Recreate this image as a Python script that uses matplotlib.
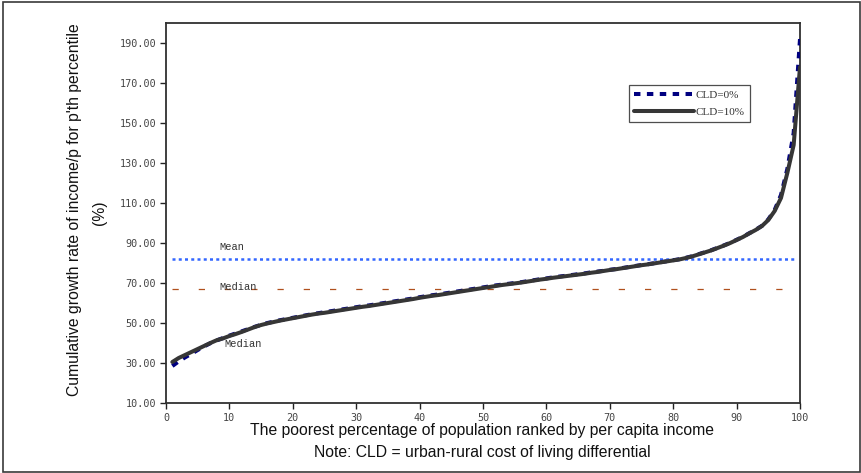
import matplotlib
matplotlib.use("Agg")
import matplotlib.pyplot as plt
from matplotlib.patches import Rectangle

# Percentile of population (poorest p%)
percentiles = list(range(1, 101))

# Cumulative growth rate of income per capita at each percentile (%), CLD = 0%
growth_cld0 = [
    28.5, 30.8, 32.8, 34.6, 36.5, 38.3, 39.9, 41.3, 42.5, 43.7,
    44.8, 45.9, 47.0, 48.1, 49.1, 50.0, 50.7, 51.4, 52.0, 52.6,
    53.2, 53.8, 54.4, 54.9, 55.4, 55.9, 56.4, 56.9, 57.4, 57.9,
    58.4, 58.8, 59.3, 59.8, 60.3, 60.8, 61.3, 61.8, 62.3, 62.9,
    63.4, 63.9, 64.3, 64.8, 65.3, 65.8, 66.3, 66.8, 67.3, 67.8,
    68.3, 68.8, 69.2, 69.6, 70.0, 70.4, 70.9, 71.4, 71.9, 72.3,
    72.8, 73.2, 73.6, 74.0, 74.4, 74.8, 75.3, 75.7, 76.1, 76.6,
    77.0, 77.5, 78.0, 78.5, 79.0, 79.4, 79.9, 80.4, 80.9, 81.4,
    81.9, 82.6, 83.4, 84.4, 85.4, 86.4, 87.6, 88.8, 90.1, 91.6,
    93.1, 94.9, 96.6, 98.6, 101.8, 106.5, 114.0, 127.0, 145.0, 192.0,
]

# Same measure with CLD = 10%
growth_cld10 = [
    30.5, 32.5, 34.0, 35.5, 37.0, 38.5, 40.0, 41.4, 42.3, 43.5,
    44.5, 45.6, 46.8, 48.0, 49.0, 49.8, 50.5, 51.2, 51.8, 52.4,
    53.0, 53.6, 54.2, 54.7, 55.1, 55.6, 56.1, 56.6, 57.1, 57.6,
    58.1, 58.5, 59.0, 59.5, 60.0, 60.5, 61.0, 61.5, 62.0, 62.6,
    63.1, 63.6, 64.0, 64.5, 65.0, 65.5, 66.0, 66.5, 67.0, 67.5,
    68.0, 68.5, 69.0, 69.4, 69.8, 70.2, 70.7, 71.2, 71.7, 72.1,
    72.6, 73.0, 73.4, 73.8, 74.2, 74.6, 75.1, 75.5, 76.0, 76.5,
    76.9, 77.4, 77.9, 78.4, 78.9, 79.3, 79.8, 80.3, 80.8, 81.3,
    81.8, 82.5, 83.3, 84.3, 85.3, 86.3, 87.5, 88.7, 90.0, 91.5,
    93.0, 94.8, 96.5, 98.5, 101.5, 106.0, 112.5, 125.0, 139.0, 178.0,
]

mean_growth = 82.0
median_growth = 67.0

yticks = [10, 30, 50, 70, 90, 110, 130, 150, 170, 190]
xticks = [0, 10, 20, 30, 40, 50, 60, 70, 80, 90, 100]

W, H = 862, 473
fig = plt.figure(figsize=(W / 100, H / 100), dpi=100)
fig.patch.set_facecolor("white")

# outer chart border
fig.patches.append(Rectangle((3 / W, 1 / H), (W - 5) / W, (H - 3) / H,
                             transform=fig.transFigure, fill=False,
                             edgecolor="#3a3a3a", linewidth=1.2))

ax = fig.add_axes([166 / W, (H - 403) / H, 634 / W, 380 / H])

l0, = ax.plot(percentiles, growth_cld0, color="#000080", linewidth=2.9,
              dashes=(1.6, 1.6), zorder=3, label="CLD=0%")
l1, = ax.plot(percentiles, growth_cld10, color="#363636", linewidth=2.9,
              solid_capstyle="round", zorder=4, label="CLD=10%")

ax.axhline(mean_growth, xmin=0.01, xmax=0.99, color="#3366FF",
           linewidth=1.8, dashes=(1.2, 1.3), zorder=2)
ax.axhline(median_growth, xmin=0.01, xmax=0.99, color="#B0501E",
           linewidth=0.9, dashes=(5, 16), zorder=2)

lab_font = dict(family=["Liberation Mono", "DejaVu Sans Mono"], fontsize=7.5,
                color="#333333", ha="center", va="center")
ax.text(10.4, 88, "Mean", **lab_font)
ax.text(11.4, 68.2, "Median", **lab_font)
ax.text(12.1, 39.5, "Median", **lab_font)

ax.set_xlim(0, 100)
ax.set_ylim(10, 200)
ax.set_xticks(xticks)
ax.set_yticks(yticks)
ax.set_yticklabels([f"{v:.2f}" for v in yticks])
ax.set_xticklabels([str(v) for v in xticks])

tick_font = ["DejaVu Sans Mono"]
for lbl in ax.get_xticklabels() + ax.get_yticklabels():
    lbl.set_family(tick_font)
    lbl.set_fontsize(7.3)
    lbl.set_color("#444444")
ax.tick_params(axis="both", direction="out", length=4, width=1,
               color="#222222")
ax.tick_params(axis="y", pad=3)
ax.tick_params(axis="x", pad=3)
for s in ax.spines.values():
    s.set_color("#303030")
    s.set_linewidth(1.3)

# axis titles
title_family = ["Liberation Sans", "DejaVu Sans"]
fig.text(482 / W, 1 - 430 / H,
         "The poorest percentage of population ranked by per capita income",
         family=title_family, fontsize=11.3,
         ha="center", va="center", color="#111111")
fig.text(482 / W, 1 - 452 / H,
         "Note: CLD = urban-rural cost of living differential",
         family=title_family, fontsize=11.3,
         ha="center", va="center", color="#111111")
fig.text(75 / W, 1 - 210 / H,
         "Cumulative growth rate of income/p for p'th percentile",
         family=title_family, fontsize=11.3,
         rotation=90, ha="center", va="center", color="#111111")
fig.text(100 / W, 1 - 213 / H, "(%)",
         family=title_family, fontsize=11.3,
         rotation=90, ha="center", va="center", color="#111111")

leg = ax.legend(handles=[l0, l1], loc="upper left",
                bbox_to_anchor=(629 / W, 1 - 85 / H),
                bbox_transform=fig.transFigure,
                prop={"family": ["Liberation Serif", "DejaVu Serif"], "size": 8},
                frameon=True, fancybox=False, shadow=False,
                handlelength=5.4, handletextpad=0.15, borderpad=0.45,
                labelspacing=0.7, borderaxespad=0)
leg.get_frame().set_edgecolor("#222222")
leg.get_frame().set_linewidth(0.9)
for t in leg.get_texts():
    t.set_color("#333333")

fig.savefig("out.png", dpi=100, facecolor="white")
